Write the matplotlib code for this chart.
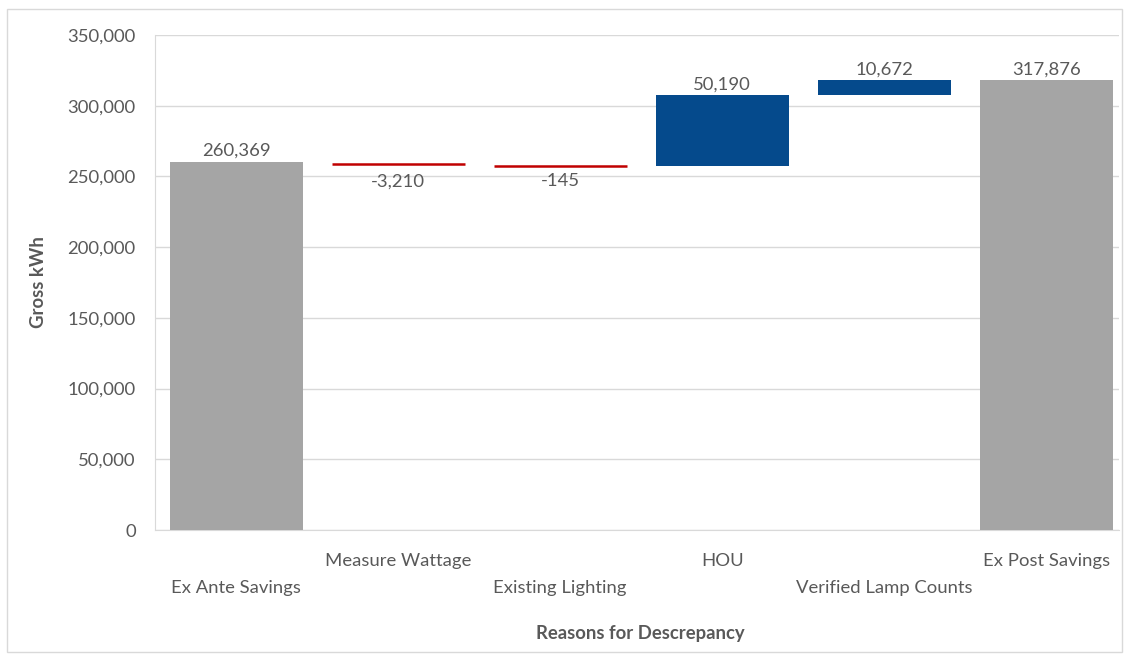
import matplotlib
matplotlib.use('Agg')
import matplotlib.pyplot as plt
from matplotlib.patches import Rectangle
from matplotlib.ticker import FuncFormatter

categories = ['Ex Ante Savings', 'Measure Wattage', 'Existing Lighting',
              'HOU', 'Verified Lamp Counts', 'Ex Post Savings']
changes = [260369, -3210, -145, 50190, 10672, 317876]
is_total = [True, False, False, False, False, True]

plt.rcParams['font.family'] = ['Lato', 'DejaVu Sans']
text_grey = '#595959'
fs = 13.3

fig = plt.figure(figsize=(11.24, 6.54), dpi=100)
ax = fig.add_axes([0.138, 0.1896, 0.8577, 0.757])

# figure frame
fig.patches.append(Rectangle((0.006, 0.003), 0.992, 0.983, transform=fig.transFigure,
                             fill=False, edgecolor='#d9d9d9', linewidth=1))

bar_w = 0.82
running = 0
for i, (val, total) in enumerate(zip(changes, is_total)):
    if total:
        bottom, height, color = 0, val, '#a5a5a5'
        running = val
    else:
        bottom, height = running, val
        color = '#c00000' if val < 0 else '#054a8c'
        running += val
    if val < 0:
        # decreases show as a thin red line
        ax.hlines(bottom + height / 2, i - bar_w / 2, i + bar_w / 2,
                  color=color, linewidth=1.8, zorder=3)
        ax.annotate(f'{val:,}', (i, bottom + height), xytext=(0, -5), textcoords='offset points',
                    ha='center', va='top', fontsize=fs, color=text_grey)
    else:
        ax.bar(i, height, bottom=bottom, width=bar_w, color=color, linewidth=0, zorder=3)
        ax.annotate(f'{val:,}', (i, bottom + height), xytext=(0, 2), textcoords='offset points',
                    ha='center', va='bottom', fontsize=fs, color=text_grey)

ax.set_xlim(-0.5, len(categories) - 0.55)
ax.set_ylim(0, 350000)
ax.set_yticks(range(0, 350001, 50000))
ax.yaxis.set_major_formatter(FuncFormatter(lambda v, p: f'{int(v):,}'))
ax.grid(axis='y', color='#d9d9d9', linewidth=1, zorder=0)
ax.tick_params(axis='y', length=0, labelsize=fs, labelcolor=text_grey, pad=14)

ax.set_xticks(range(len(categories)))
ax.set_xticklabels([])
ax.tick_params(axis='x', length=0)
for i, name in enumerate(categories):
    offset = -58 if i % 2 == 0 else -31
    ax.annotate(name, (i, 0), xycoords=('data', 'axes fraction'), xytext=(0, offset),
                textcoords='offset pixels', ha='center', va='center',
                fontsize=fs, color=text_grey)

for side in ['top', 'right']:
    ax.spines[side].set_visible(False)
ax.spines['left'].set_color('#d9d9d9')
ax.spines['bottom'].set_color('#d9d9d9')

fig.text(0.034, 0.5685, 'Gross kWh', rotation=90, ha='center', va='center',
         fontsize=fs, fontweight='bold', color=text_grey)
fig.text(0.57, 0.031, 'Reasons for Descrepancy', ha='center', va='center',
         fontsize=fs, fontweight='bold', color=text_grey)

fig.savefig('out.png', dpi=100)
